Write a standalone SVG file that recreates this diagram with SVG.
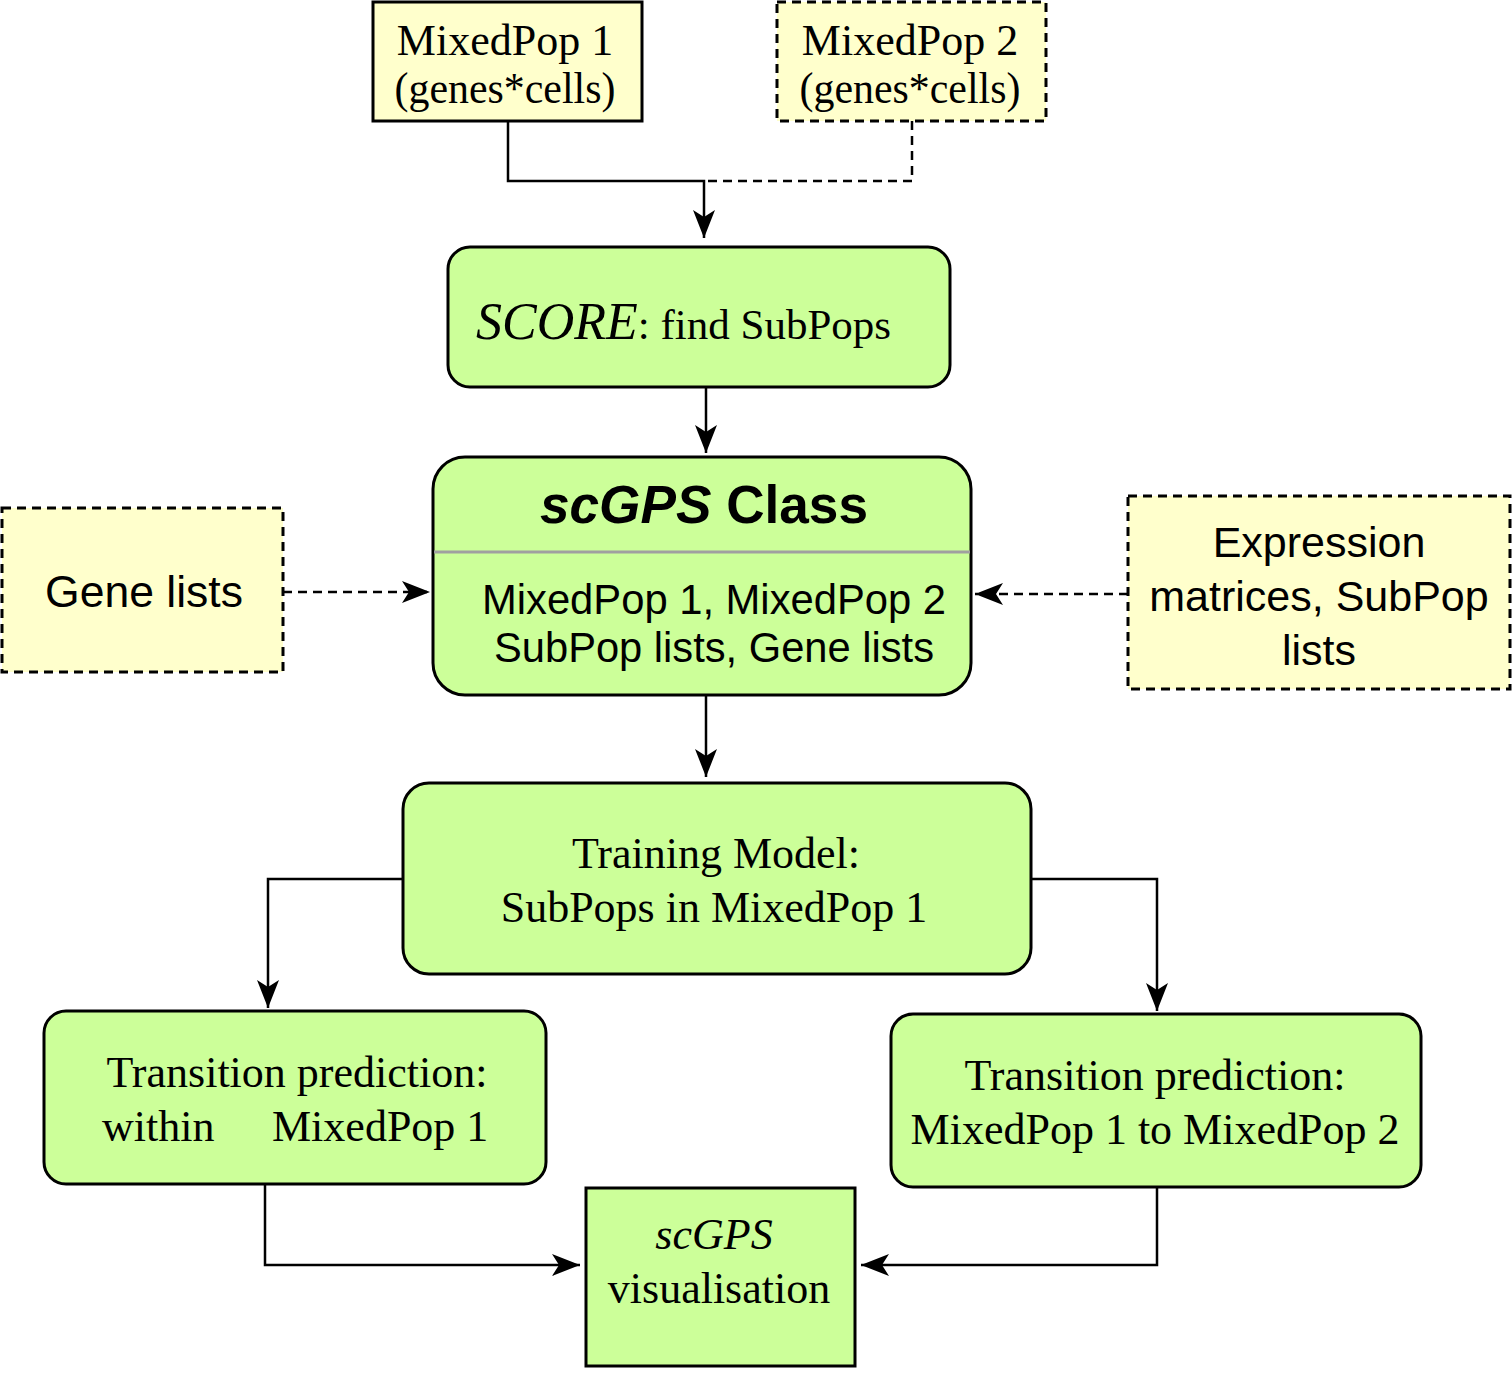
<svg xmlns="http://www.w3.org/2000/svg" width="1512" height="1375" viewBox="0 0 1512 1375">
<style>
.y{fill:#FFFFCC;stroke:#000;stroke-width:3}
.g{fill:#CCFF99;stroke:#000;stroke-width:3}
.d{stroke-dasharray:9 6}
.c{fill:none;stroke:#000;stroke-width:2.5}
.serif{font-family:"Liberation Serif","Times New Roman",serif;font-size:44px;fill:#000}
.sans{font-family:"Liberation Sans",Arial,sans-serif;font-size:43px;fill:#000}
.m{text-anchor:middle}
</style>
<defs>
<marker id="ah" markerUnits="userSpaceOnUse" markerWidth="32" markerHeight="26" viewBox="0 -13 32 26" refX="28" refY="0" orient="auto">
<path d="M0,-11 L28,0 L0,11 L7,0 Z" fill="#000"/>
</marker>
</defs>
<rect width="1512" height="1375" fill="#fff"/>
<g id="connectors">
<path class="c" d="M508,121 V181 H704 V238" marker-end="url(#ah)"/>
<path class="c d" d="M912,121 V181 H704"/>
<path class="c" d="M706,387 V453" marker-end="url(#ah)"/>
<path class="c d" d="M283,592 H430" marker-end="url(#ah)"/>
<path class="c d" d="M1128,594 H975" marker-end="url(#ah)"/>
<path class="c" d="M706,695 V777" marker-end="url(#ah)"/>
<path class="c" d="M403,879 H268 V1008" marker-end="url(#ah)"/>
<path class="c" d="M1031,879 H1157 V1011" marker-end="url(#ah)"/>
<path class="c" d="M265,1184 V1265 H580" marker-end="url(#ah)"/>
<path class="c" d="M1157,1187 V1265 H861" marker-end="url(#ah)"/>
</g>
<g id="mixedpop1">
<rect class="y" x="373" y="2" width="269" height="119"/>
<text class="serif m" x="505" y="55">MixedPop 1</text>
<text class="serif m" x="505" y="103" textLength="221" lengthAdjust="spacingAndGlyphs">(genes*cells)</text>
</g>
<g id="mixedpop2">
<rect class="y d" x="777" y="2" width="269" height="119"/>
<text class="serif m" x="910" y="55">MixedPop 2</text>
<text class="serif m" x="910" y="103" textLength="221" lengthAdjust="spacingAndGlyphs">(genes*cells)</text>
</g>
<g id="score">
<rect class="g" x="448" y="247" width="502" height="140" rx="22"/>
<text class="serif" x="476" y="339"><tspan style="font-style:italic;font-size:52px">SCORE</tspan><tspan style="font-size:43px">: find SubPops</tspan></text>
</g>
<g id="scgps-class">
<rect class="g" x="433" y="457" width="538" height="238" rx="32"/>
<line x1="434" y1="552" x2="970" y2="552" stroke="#A0A0A0" stroke-width="3"/>
<text class="sans m" x="704" y="523" style="font-weight:bold;font-size:53px" textLength="328" lengthAdjust="spacingAndGlyphs"><tspan style="font-style:italic">scGPS</tspan> Class</text>
<text class="sans m" x="714" y="614" style="font-size:42px" textLength="464" lengthAdjust="spacingAndGlyphs">MixedPop 1, MixedPop 2</text>
<text class="sans m" x="714" y="662" style="font-size:42px" textLength="440" lengthAdjust="spacingAndGlyphs">SubPop lists, Gene lists</text>
</g>
<g id="gene-lists">
<rect class="y d" x="2" y="508" width="281" height="164"/>
<text class="sans m" x="144" y="607" style="font-size:44px" textLength="198" lengthAdjust="spacingAndGlyphs">Gene lists</text>
</g>
<g id="expression">
<rect class="y d" x="1128" y="496" width="382" height="193"/>
<text class="sans m" x="1319" y="557">Expression</text>
<text class="sans m" x="1319" y="611">matrices, SubPop</text>
<text class="sans m" x="1319" y="665">lists</text>
</g>
<g id="training">
<rect class="g" x="403" y="783" width="628" height="191" rx="26"/>
<text class="serif m" x="716" y="868">Training Model:</text>
<text class="serif m" x="714" y="922">SubPops in MixedPop 1</text>
</g>
<g id="transition-within">
<rect class="g" x="44" y="1011" width="502" height="173" rx="22"/>
<text class="serif m" x="297" y="1087">Transition prediction:</text>
<text class="serif" x="102" y="1141">within</text>
<text class="serif" x="272" y="1141">MixedPop 1</text>
</g>
<g id="transition-between">
<rect class="g" x="891" y="1014" width="530" height="173" rx="22"/>
<text class="serif m" x="1155" y="1090">Transition prediction:</text>
<text class="serif m" x="1155" y="1144">MixedPop 1 to MixedPop 2</text>
</g>
<g id="visualisation">
<rect class="g" x="586" y="1188" width="269" height="178"/>
<text class="serif m" x="714" y="1249" style="font-style:italic">scGPS</text>
<text class="serif m" x="719" y="1303">visualisation</text>
</g>
</svg>
